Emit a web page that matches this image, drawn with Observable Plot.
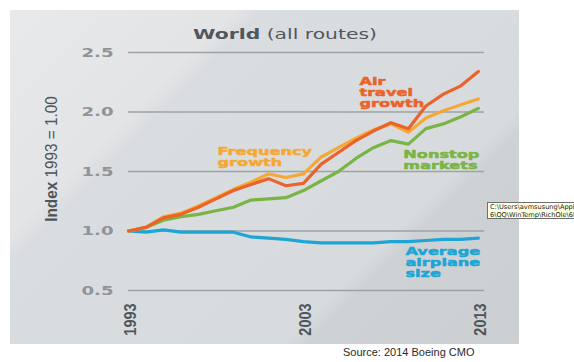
<!DOCTYPE html>
<html>
<head>
<meta charset="utf-8">
<script src="https://cdn.jsdelivr.net/npm/d3@7"></script>
<script src="https://cdn.jsdelivr.net/npm/@observablehq/plot@0.6"></script>
<style>
  html, body { margin: 0; padding: 0; background: #ffffff; }
  #page { position: relative; width: 574px; height: 362px; overflow: hidden; background: #fff; }
  #panel { position: absolute; left: 10px; top: 10px; width: 509px; height: 334px;
    background: linear-gradient(135deg, #e7e9eb 0%, #e2e4e6 27%, #dadde0 30%, #d8dbde 72%, #ced2d5 75%, #cbcfd2 100%); }
  #title { position: absolute; left: 285px; top: 24px; transform: translateX(-50%) scaleX(1.4); transform-origin: center;
    font-family: "DejaVu Sans", sans-serif; font-size: 14.5px; color: #50575d; white-space: nowrap; line-height: 20px; }
  #title b { font-weight: bold; }
  #ytitle { position: absolute; left: 52px; top: 159px; transform: translate(-50%, -50%) rotate(-90deg) scaleX(0.9);
    font-family: "Liberation Sans", Arial, sans-serif; font-size: 17px; color: #4e555b; white-space: nowrap; }
  #chart { position: absolute; left: 0; top: 40px; }
  #source { position: absolute; left: 343px; top: 346px; font-family: "Liberation Sans", Arial, sans-serif; font-size: 11px; color: #2a2a2a; white-space: nowrap; }
  #tip { position: absolute; left: 487px; top: 202px; width: 95px; height: 17px; background: #ffffe1; border: 1px solid #6f6f6f;
    font-family: "DejaVu Sans", sans-serif; font-size: 6.6px; line-height: 8px; color: #222; white-space: nowrap; padding-left: 2px; box-sizing: border-box; }
</style>
</head>
<body>
<div id="page">
  <div id="panel"></div>
  <div id="title"><b>World</b> (all routes)</div>
  <div id="ytitle"><b>Index</b> 1993 = 1.00</div>
  <div id="chart"></div>
  <div id="source">Source: 2014 Boeing CMO</div>
  <div id="tip">C:\Users\avmsusung\AppDa<br>6\QQ\WinTemp\RichOle\6P</div>
</div>
<script>
const years = [1993, 1994, 1995, 1996, 1997, 1998, 1999, 2000, 2001, 2002, 2003,
               2004, 2005, 2006, 2007, 2008, 2009, 2010, 2011, 2012, 2013];
const airTravel = [1.00, 1.03, 1.11, 1.14, 1.20, 1.27, 1.34, 1.39, 1.44, 1.38, 1.40,
                   1.56, 1.66, 1.76, 1.84, 1.91, 1.86, 2.05, 2.15, 2.22, 2.34];
const frequency = [1.00, 1.03, 1.12, 1.15, 1.21, 1.28, 1.35, 1.41, 1.48, 1.45, 1.48,
                   1.62, 1.70, 1.78, 1.85, 1.90, 1.83, 1.95, 2.01, 2.06, 2.11];
const nonstop   = [1.00, 1.03, 1.09, 1.12, 1.14, 1.17, 1.20, 1.26, 1.27, 1.28, 1.34,
                   1.42, 1.50, 1.61, 1.70, 1.76, 1.73, 1.86, 1.90, 1.96, 2.03];
const avgSize   = [1.00, 0.99, 1.01, 0.99, 0.99, 0.99, 0.99, 0.95, 0.94, 0.93, 0.91,
                   0.90, 0.90, 0.90, 0.90, 0.91, 0.91, 0.92, 0.93, 0.93, 0.94];

const seriesNames  = ["Average airplane size", "Nonstop markets", "Frequency growth", "Air travel growth"];
const seriesColors = ["#1ba6d5", "#79b545", "#f6a834", "#e9632b"];
const seriesValues = [avgSize, nonstop, frequency, airTravel];

const yTicks = [0.5, 1.0, 1.5, 2.0, 2.5];
const xTicks = [1993, 2003, 2013];

const labelTexts  = ["Average\nairplane\nsize", "Nonstop\nmarkets", "Frequency\ngrowth", "Air\ntravel\ngrowth"];
const labelYears  = [2008.83, 2008.71, 1998.09, 2006.2];
const labelValues = [0.739, 1.601, 1.622, 2.168];

const rows = seriesNames.flatMap((name, i) =>
  years.map((yr, j) => ({series: name, year: yr, value: seriesValues[i][j]})));
const labels = seriesNames.map((name, i) =>
  ({series: name, text: labelTexts[i], year: labelYears[i], value: labelValues[i]}));

const chart = Plot.plot({
  width: 520,
  height: 300,
  marginTop: 12,
  marginBottom: 50,
  marginLeft: 128,
  marginRight: 36,
  style: {background: "transparent", overflow: "visible"},
  x: {domain: [1993, 2013.35]},
  y: {domain: [0.5, 2.5]},
  color: {domain: seriesNames, range: seriesColors},
  marks: [
    Plot.ruleY(yTicks, {stroke: "#9ca2a7", strokeWidth: 1.3}),
    Plot.axisY({ticks: yTicks, tickSize: 0, tickPadding: 15, tickFormat: d3.format(".1f"), label: null,
      fontSize: 12.5, fontWeight: "bold", fontFamily: "DejaVu Sans", fill: "#8e9499"}),
    Plot.axisX({ticks: xTicks, tickSize: 0, tickPadding: 13, tickRotate: -90, tickFormat: d => String(d), label: null,
      fontSize: 17, fontWeight: "bold", fontFamily: "Liberation Sans, Arial, sans-serif", fill: "#4e555b", dx: 2}),
    Plot.line(rows, {x: "year", y: "value", z: "series", stroke: "series", strokeWidth: 3.2,
      strokeLinejoin: "round", strokeLinecap: "round"}),
    Plot.text(labels, {x: "year", y: "value", text: "text", fill: "series", stroke: "series", strokeWidth: 0.5,
      textAnchor: "start", lineAnchor: "middle", lineHeight: 1.0, fontSize: 11, fontWeight: "bold", fontFamily: "DejaVu Sans"})
  ]
});

// Horizontal stretch / condense of text glyphs to mimic the extended and narrow typefaces
function stretch(selection, sx) {
  selection.each(function() {
    const t = this.getAttribute("transform") || "";
    this.setAttribute("transform", t + " scale(" + sx + ",1)");
  });
}
const svg = d3.select(chart);
stretch(svg.selectAll('g[aria-label="text"] text'), 1.47);
stretch(svg.selectAll('g[aria-label="y-axis tick label"] text'), 1.45);
stretch(svg.selectAll('g[aria-label="x-axis tick label"] text'), 0.85);

document.getElementById("chart").appendChild(chart);
</script>
</body>
</html>
